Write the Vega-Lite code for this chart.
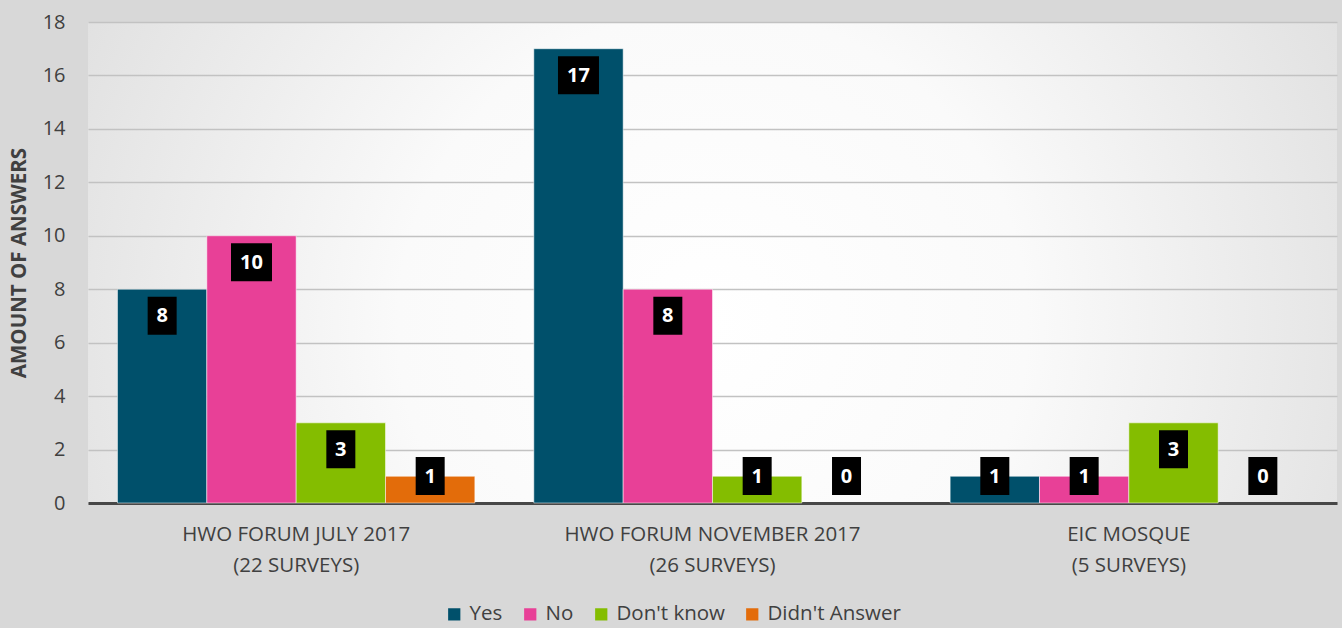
{
  "$schema": "https://vega.github.io/schema/vega-lite/v6.json",
  "width": 1249,
  "height": 481,
  "autosize": {"type": "none"},
  "padding": {"left": 88, "top": 22, "right": 5, "bottom": 125},
  "background": "#d8d8d8",
  "config": {
    "font": "Open Sans",
    "view": {
      "stroke": null,
      "fill": {
        "gradient": "radial",
        "x1": 0.5, "y1": 0.55, "x2": 0.5, "y2": 0.55, "r1": 0, "r2": 0.72,
        "stops": [
          {"offset": 0, "color": "#ffffff"},
          {"offset": 0.35, "color": "#fafafa"},
          {"offset": 1, "color": "#d4d4d4"}
        ]
      }
    }
  },
  "data": {
    "values": [
      {"group": "HWO FORUM JULY 2017|(22 SURVEYS)", "answer": "Yes", "value": 8},
      {"group": "HWO FORUM JULY 2017|(22 SURVEYS)", "answer": "No", "value": 10},
      {"group": "HWO FORUM JULY 2017|(22 SURVEYS)", "answer": "Don't know", "value": 3},
      {"group": "HWO FORUM JULY 2017|(22 SURVEYS)", "answer": "Didn't Answer", "value": 1},
      {"group": "HWO FORUM NOVEMBER 2017|(26 SURVEYS)", "answer": "Yes", "value": 17},
      {"group": "HWO FORUM NOVEMBER 2017|(26 SURVEYS)", "answer": "No", "value": 8},
      {"group": "HWO FORUM NOVEMBER 2017|(26 SURVEYS)", "answer": "Don't know", "value": 1},
      {"group": "HWO FORUM NOVEMBER 2017|(26 SURVEYS)", "answer": "Didn't Answer", "value": 0},
      {"group": "EIC MOSQUE|(5 SURVEYS)", "answer": "Yes", "value": 1},
      {"group": "EIC MOSQUE|(5 SURVEYS)", "answer": "No", "value": 1},
      {"group": "EIC MOSQUE|(5 SURVEYS)", "answer": "Don't know", "value": 3},
      {"group": "EIC MOSQUE|(5 SURVEYS)", "answer": "Didn't Answer", "value": 0}
    ]
  },
  "encoding": {
    "x": {
      "field": "group", "type": "nominal", "sort": null,
      "scale": {"paddingInner": 0, "paddingOuter": 0},
      "axis": {
        "title": null, "labelAngle": 0, "ticks": false, "grid": false,
        "domain": true, "domainColor": "#474747", "domainWidth": 3,
        "labelFontSize": 20.5, "labelColor": "#404040", "labelPadding": 21,
        "labelLineHeight": 31, "labelLimit": 0,
        "labelExpr": "split(datum.label, '|')"
      }
    },
    "xOffset": {
      "field": "answer", "type": "nominal",
      "sort": ["Yes", "No", "Don't know", "Didn't Answer"],
      "scale": {"paddingInner": 0, "paddingOuter": 0.33}
    }
  },
  "layer": [
    {
      "mark": {"type": "bar", "stroke": "#ffffff", "strokeWidth": 1},
      "encoding": {
        "strokeOpacity": {"condition": {"test": "datum.value > 0", "value": 0.5}, "value": 0},
        "y": {
          "field": "value", "type": "quantitative",
          "scale": {"domain": [0, 18], "nice": false},
          "axis": {
            "title": "AMOUNT OF ANSWERS", "titleFontSize": 20.5, "titleFontWeight": "bold",
            "titleColor": "#404040", "titlePadding": 13,
            "values": [0, 2, 4, 6, 8, 10, 12, 14, 16, 18],
            "domain": false, "ticks": false,
            "gridColor": "#c2c2c2", "gridWidth": 1.5,
            "labelFontSize": 20, "labelColor": "#404040", "labelPadding": 23
          }
        },
        "color": {
          "field": "answer", "type": "nominal",
          "sort": ["Yes", "No", "Don't know", "Didn't Answer"],
          "scale": {
            "domain": ["Yes", "No", "Don't know", "Didn't Answer"],
            "range": ["#00506b", "#e84097", "#84bd00", "#e36c0a"]
          },
          "legend": {
            "title": null, "orient": "none", "direction": "horizontal",
            "legendX": 356, "legendY": 582, "padding": 0,
            "symbolType": "square", "symbolSize": 150, "symbolStrokeWidth": 0,
            "labelFontSize": 20.5, "labelColor": "#404040", "labelOffset": 5,
            "columnPadding": 17
          }
        }
      }
    },
    {
      "transform": [
        {"calculate": "max(datum.value, 2)", "as": "lp"},
        {"filter": "datum.value < 10"}
      ],
      "mark": {
        "type": "point", "filled": true, "color": "#000000", "opacity": 1,
        "strokeWidth": 0, "size": 1444, "yOffset": 26.5,
        "shape": "M-0.763,-1H0.763V1H-0.763Z"
      },
      "encoding": {"y": {"field": "lp", "type": "quantitative"}}
    },
    {
      "transform": [
        {"calculate": "max(datum.value, 2)", "as": "lp"},
        {"filter": "datum.value >= 10"}
      ],
      "mark": {
        "type": "point", "filled": true, "color": "#000000", "opacity": 1,
        "strokeWidth": 0, "size": 1444, "yOffset": 26.5,
        "shape": "M-1.079,-1H1.079V1H-1.079Z"
      },
      "encoding": {"y": {"field": "lp", "type": "quantitative"}}
    },
    {
      "transform": [{"calculate": "max(datum.value, 2)", "as": "lp"}],
      "mark": {
        "type": "text", "color": "#ffffff", "fontWeight": "bold", "fontSize": 20,
        "baseline": "middle", "align": "center", "yOffset": 27
      },
      "encoding": {
        "y": {"field": "lp", "type": "quantitative"},
        "text": {"field": "value", "type": "quantitative"}
      }
    }
  ]
}
